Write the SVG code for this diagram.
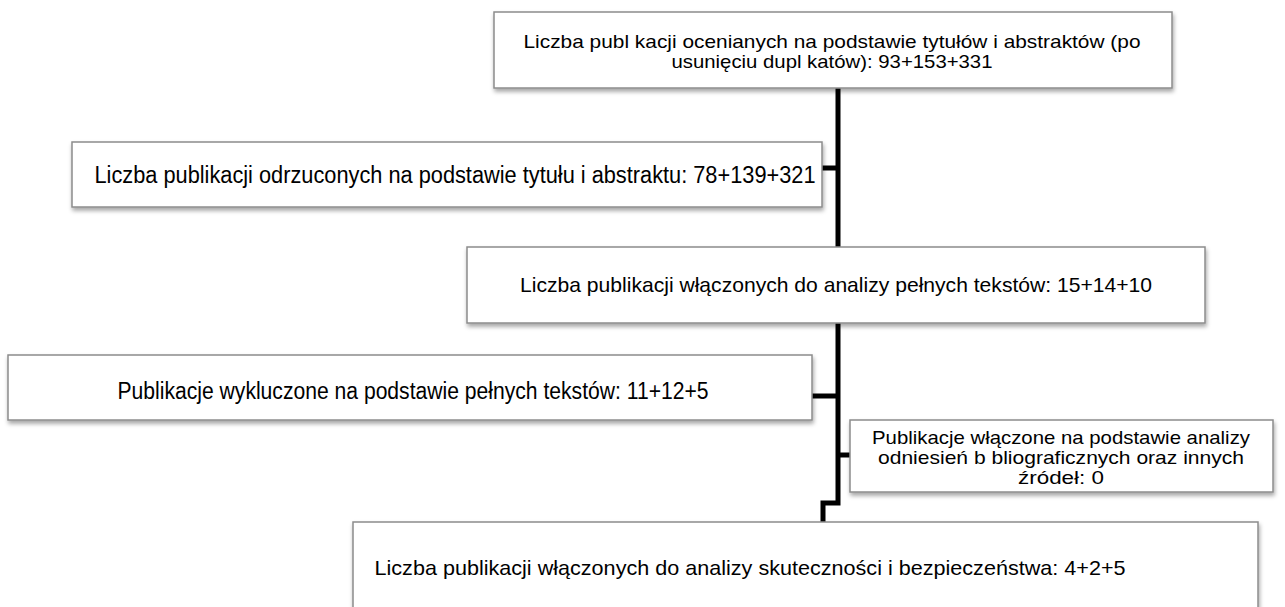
<svg xmlns="http://www.w3.org/2000/svg" width="1285" height="607" viewBox="0 0 1285 607">
<defs>
<filter id="sh" x="-5%" y="-20%" width="110%" height="150%">
<feDropShadow dx="1" dy="3" stdDeviation="2" flood-color="#000" flood-opacity="0.35"/>
</filter>
<style>
.box{fill:#fff;stroke:#8c8c8c;stroke-width:1.5;filter:url(#sh)}
.t{font-family:"Liberation Sans",Arial,sans-serif;font-size:21px;fill:#000;text-anchor:middle}
.m{font-size:19px}
.n{font-size:23px}
.c{fill:none;stroke:#000;stroke-width:5}
</style>
</defs>
<rect width="1285" height="607" fill="#fff"/>
<g id="connectors">
<path class="c" d="M838 88 V503 H823 V522"/>
<path class="c" d="M822 168 H838"/>
<path class="c" d="M812 396 H838"/>
<path class="c" d="M838 455 H850"/>
</g>
<g id="n1">
<rect class="box" x="494" y="12" width="678" height="76"/>
<text class="t m" x="832" y="48" textLength="617" lengthAdjust="spacingAndGlyphs">Liczba publ kacji ocenianych na podstawie tytułów i abstraktów (po</text>
<text class="t m" x="832" y="68" textLength="321" lengthAdjust="spacingAndGlyphs">usunięciu dupl katów): 93+153+331</text>
</g>
<g id="n2">
<rect class="box" x="72" y="142" width="750" height="65"/>
<text class="t n" x="455" y="183" textLength="721" lengthAdjust="spacingAndGlyphs">Liczba publikacji odrzuconych na podstawie tytułu i abstraktu: 78+139+321</text>
</g>
<g id="n3">
<rect class="box" x="467" y="247" width="738" height="76"/>
<text class="t" x="836" y="292" textLength="632" lengthAdjust="spacingAndGlyphs">Liczba publikacji włączonych do analizy pełnych tekstów: 15+14+10</text>
</g>
<g id="n4">
<rect class="box" x="8" y="355" width="804" height="65"/>
<text class="t n" x="413" y="399" textLength="591" lengthAdjust="spacingAndGlyphs">Publikacje wykluczone na podstawie pełnych tekstów: 11+12+5</text>
</g>
<g id="n5">
<rect class="box" x="850" y="420" width="423" height="72"/>
<text class="t m" x="1061" y="444" textLength="378" lengthAdjust="spacingAndGlyphs">Publikacje włączone na podstawie analizy</text>
<text class="t m" x="1061" y="464" textLength="366" lengthAdjust="spacingAndGlyphs">odniesień b bliograficznych oraz innych</text>
<text class="t m" x="1061" y="484" textLength="86" lengthAdjust="spacingAndGlyphs">źródeł: 0</text>
</g>
<g id="n6">
<rect class="box" x="353" y="522" width="905" height="100"/>
<text class="t" x="750" y="575" textLength="751" lengthAdjust="spacingAndGlyphs">Liczba publikacji włączonych do analizy skuteczności i bezpieczeństwa: 4+2+5</text>
</g>
</svg>
